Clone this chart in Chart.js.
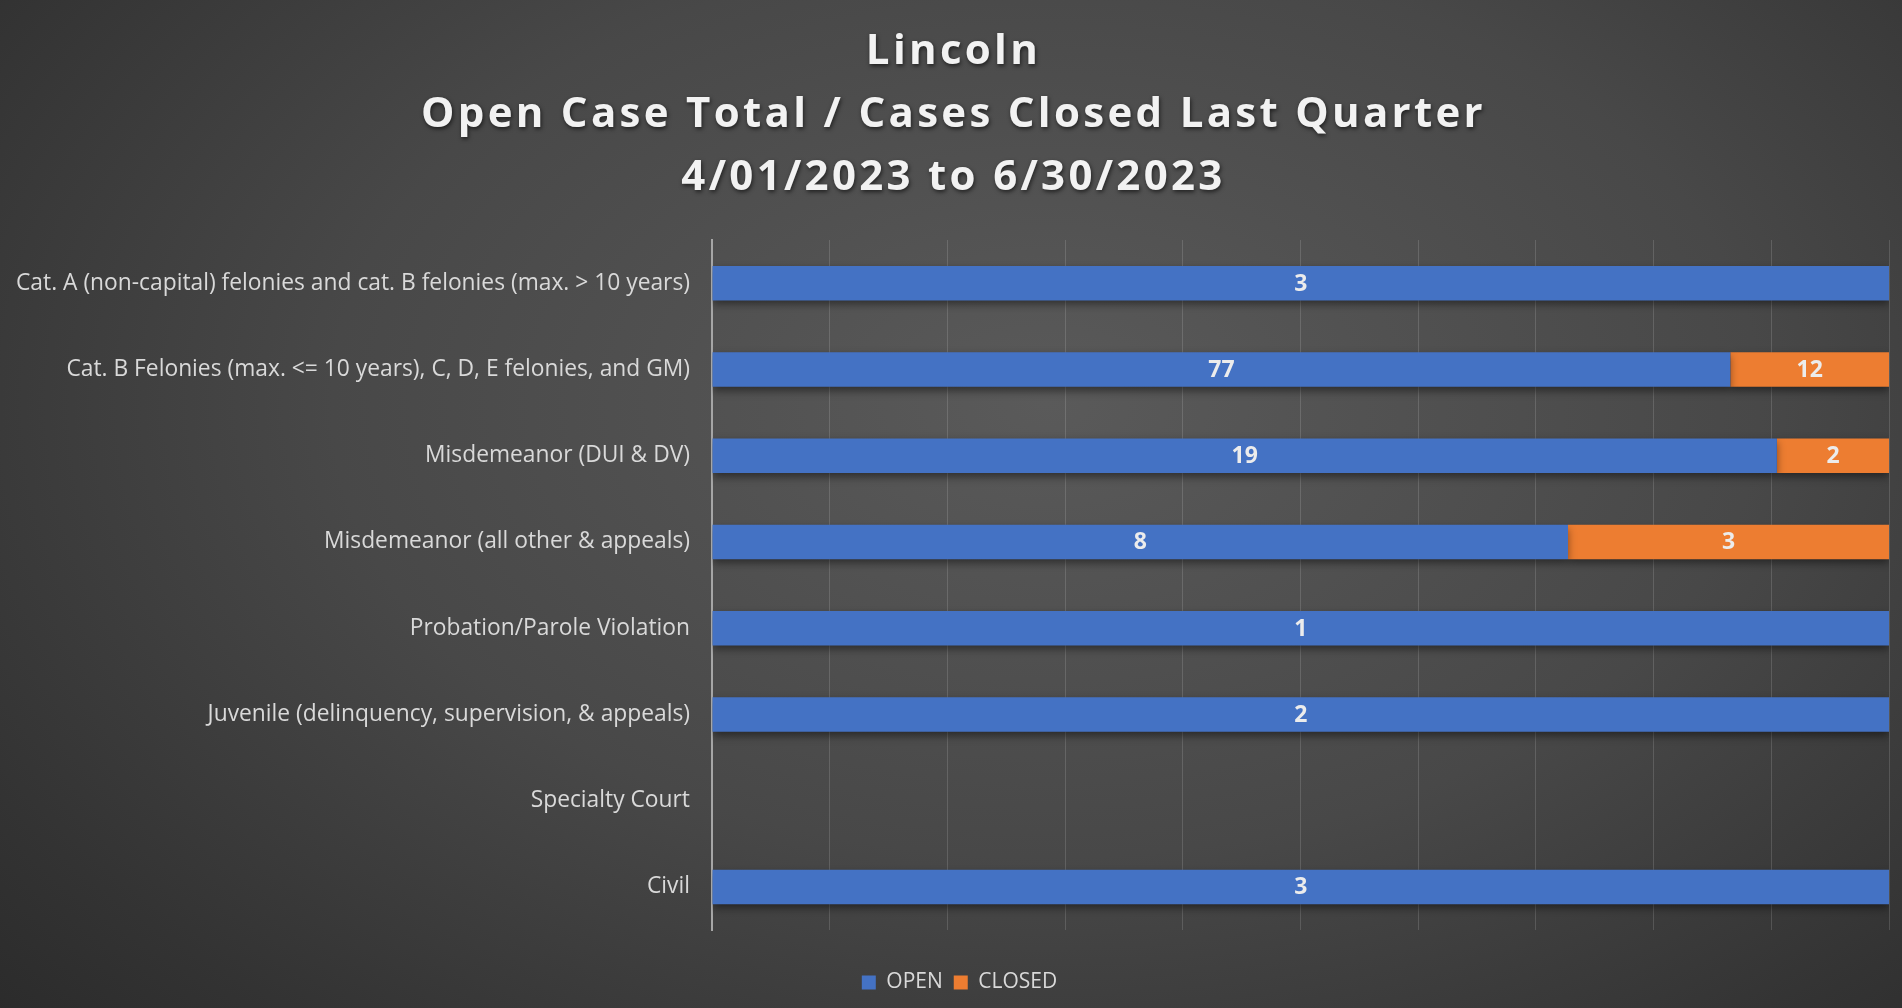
<!DOCTYPE html>
<html>
<head>
<meta charset="utf-8">
<script src="https://cdn.jsdelivr.net/npm/chart.js@4/dist/chart.umd.min.js"></script>
<style>
    html, body {
        margin: 0;
        padding: 0;
        width: 1902px;
        height: 1008px;
        overflow: hidden;
        background: radial-gradient(ellipse 75% 90% at 55% 40%, #5a5a5a 0%, #484848 50%, #333333 85%, #2b2b2b 100%);
    }
    #wrap {
        width: 1902px;
        height: 1008px;
    }
</style>
</head>
<body>
<div id="wrap"><canvas id="caseChart"></canvas></div>
<script>
// Dữ liệu
const categories = [
    'Cat. A (non-capital) felonies and cat. B felonies (max. > 10 years)',
    'Cat. B Felonies (max. <= 10 years), C, D, E felonies, and GM)',
    'Misdemeanor (DUI & DV)',
    'Misdemeanor (all other & appeals)',
    'Probation/Parole Violation',
    'Juvenile (delinquency, supervision, & appeals)',
    'Specialty Court',
    'Civil'
];
const openCases = [3, 77, 19, 8, 1, 2, 0, 3];
const closedCases = [0, 12, 2, 3, 0, 0, 0, 0];
const gridTicks = [0, 10, 20, 30, 40, 50, 60, 70, 80, 90, 100];

// Tính phần trăm cho biểu đồ 100% chồng
function toPercent(part, i) {
    const total = openCases[i] + closedCases[i];
    return total === 0 ? 0 : part / total * 100;
}

// Plugin vẽ nhãn giá trị
const valueLabels = {
    id: 'valueLabels',
    afterDatasetsDraw(chart) {
        const ctx = chart.ctx;
        ctx.save();
        ctx.font = 'bold 23px "Open Sans"';
        ctx.fillStyle = '#ececec';
        ctx.textAlign = 'center';
        ctx.textBaseline = 'middle';
        chart.data.datasets.forEach((ds, di) => {
            const meta = chart.getDatasetMeta(di);
            meta.data.forEach((bar, i) => {
                const raw = ds.raw[i];
                if (!raw) return;
                ctx.fillText(String(raw), (bar.x + bar.base) / 2, bar.y + 1);
            });
        });
        ctx.restore();
    }
};

// Bóng đổ cho thanh
const barShadow = {
    id: 'barShadow',
    beforeDatasetsDraw(chart) {
        const ctx = chart.ctx;
        ctx.save();
        ctx.shadowColor = 'rgba(0,0,0,0.45)';
        ctx.shadowBlur = 8;
        ctx.shadowOffsetY = 4;
    },
    afterDatasetsDraw(chart) {
        chart.ctx.restore();
    }
};

// Tiêu đề có giãn chữ và bóng, chú thích dịch sang phải một chút
const titleStyle = {
    id: 'titleStyle',
    afterInit(chart) {
        const tb = chart.titleBlock;
        if (tb) {
            const origDraw = tb.draw.bind(tb);
            tb.draw = function () {
                const ctx = chart.ctx;
                ctx.save();
                ctx.translate(9, 0);
                ctx.letterSpacing = '3.3px';
                ctx.shadowColor = 'rgba(0,0,0,0.6)';
                ctx.shadowBlur = 4;
                ctx.shadowOffsetX = 1;
                ctx.shadowOffsetY = 2;
                origDraw();
                ctx.restore();
            };
        }
        const lg = chart.legend;
        if (lg) {
            const origLegend = lg.draw.bind(lg);
            lg.draw = function () {
                const ctx = chart.ctx;
                ctx.save();
                ctx.translate(15, 0);
                origLegend();
                ctx.restore();
            };
        }
    }
};

const config = {
    type: 'bar',
    data: {
        labels: categories,
        datasets: [
            {
                label: 'OPEN',
                raw: openCases,
                data: openCases.map((v, i) => toPercent(v, i)),
                backgroundColor: '#4472c4',
                barPercentage: 0.4,
                categoryPercentage: 1.0
            },
            {
                label: 'CLOSED',
                raw: closedCases,
                data: closedCases.map((v, i) => toPercent(v, i)),
                backgroundColor: '#ed7d31',
                barPercentage: 0.4,
                categoryPercentage: 1.0
            }
        ]
    },
    options: {
        indexAxis: 'y',
        responsive: true,
        maintainAspectRatio: false,
        animation: false,
        layout: {
            padding: { left: 0, right: 13, top: 0, bottom: 5 }
        },
        plugins: {
            title: {
                display: true,
                text: ['Lincoln', 'Open Case Total / Cases Closed Last Quarter', '4/01/2023 to 6/30/2023'],
                color: '#f2f2f2',
                font: { family: 'Open Sans', size: 42, weight: 'bold', lineHeight: 1.5 },
                padding: { top: 21, bottom: 30 }
            },
            legend: {
                display: true,
                position: 'bottom',
                labels: {
                    color: '#d9d9d9',
                    font: { family: 'Open Sans', size: 21 },
                    boxWidth: 14,
                    boxHeight: 14,
                    padding: 11
                }
            },
            tooltip: { enabled: false }
        },
        scales: {
            x: {
                stacked: true,
                min: 0,
                max: 100,
                afterBuildTicks: (scale) => {
                    scale.ticks = gridTicks.map(v => ({ value: v }));
                },
                afterFit: (scale) => {
                    scale.height = 31;
                },
                ticks: { display: false },
                grid: {
                    color: 'rgba(255,255,255,0.14)',
                    lineWidth: 1,
                    drawTicks: false
                },
                border: { display: false }
            },
            y: {
                stacked: true,
                afterFit: (scale) => {
                    scale.width = 712;
                },
                ticks: {
                    color: '#d9d9d9',
                    font: { family: 'Open Sans', size: 22.8 },
                    padding: 22
                },
                grid: { display: false, drawTicks: false },
                border: { display: true, color: '#a6a6a6', width: 2 }
            }
        }
    },
    plugins: [titleStyle, barShadow, valueLabels]
};

const caseChart = new Chart(document.getElementById('caseChart'), config);
</script>
</body>
</html>
